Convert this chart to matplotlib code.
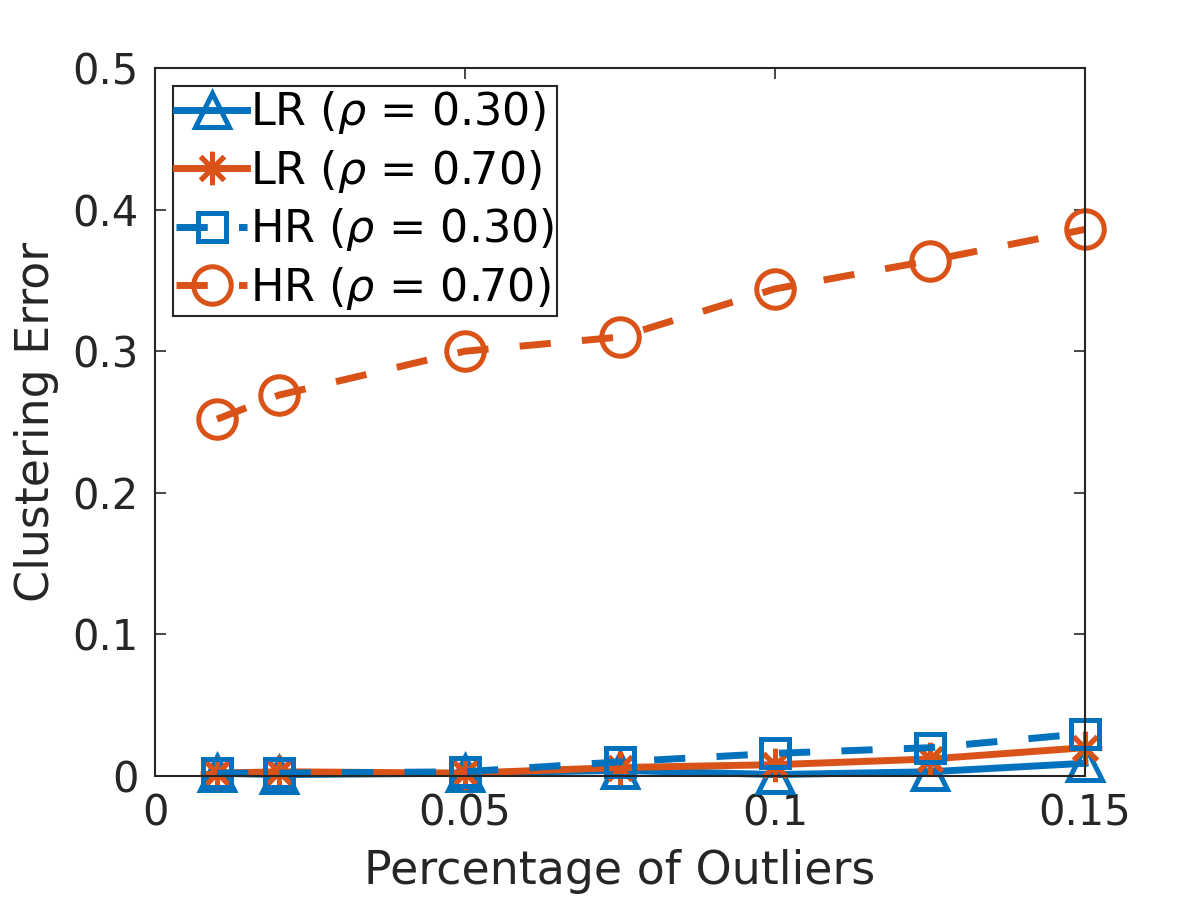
"""Clustering error vs percentage of outliers, MATLAB-style line chart."""

import matplotlib

matplotlib.use("Agg")
import matplotlib.pyplot as plt

# Data
OUTLIER_PCT = [0.01, 0.02, 0.05, 0.075, 0.1, 0.125, 0.15]
LR_030 = [0.002, 0.001, 0.002, 0.004, 0.001, 0.003, 0.009]
LR_070 = [0.002, 0.003, 0.002, 0.006, 0.008, 0.012, 0.020]
HR_030 = [0.002, 0.002, 0.003, 0.010, 0.016, 0.020, 0.030]
HR_070 = [0.252, 0.269, 0.300, 0.310, 0.344, 0.364, 0.386]

X_TICKS = [0, 0.05, 0.1, 0.15]
X_TICKLABELS = ["0", "0.05", "0.1", "0.15"]
Y_TICKS = [0, 0.1, 0.2, 0.3, 0.4, 0.5]
Y_TICKLABELS = ["0", "0.1", "0.2", "0.3", "0.4", "0.5"]

BLUE = "#0072BD"
ORANGE = "#D95319"
AXCOL = "#262626"

plt.rcParams["mathtext.fontset"] = "dejavusans"

fig = plt.figure(figsize=(12, 9), dpi=100)
ax = fig.add_axes((155 / 1200, 1 - 776 / 900, 930 / 1200, 708 / 900))

lw = 5
mew = 3.6
dash = (4.5, 4.5)
common = dict(lw=lw, mfc="none", mew=mew, clip_on=False)
ax.plot(OUTLIER_PCT, LR_030, "-", color=BLUE, marker="^", ms=25,
        label=r"LR ($\rho$ = 0.30)", **common)
ax.plot(OUTLIER_PCT, LR_070, "-", color=ORANGE, marker=(8, 2, 0), ms=24,
        label=r"LR ($\rho$ = 0.70)", **common)
ax.plot(OUTLIER_PCT, HR_030, "--", color=BLUE, marker="s", ms=20,
        dashes=dash, label=r"HR ($\rho$ = 0.30)", **common)
ax.plot(OUTLIER_PCT, HR_070, "--", color=ORANGE, marker="o", ms=27,
        dashes=dash, label=r"HR ($\rho$ = 0.70)", **common)

ax.set_xlim(0, 0.15)
ax.set_ylim(0, 0.5)
ax.set_xticks(X_TICKS)
ax.set_xticklabels(X_TICKLABELS)
ax.set_yticks(Y_TICKS)
ax.set_yticklabels(Y_TICKLABELS)
ax.tick_params(direction="in", top=True, right=True, length=8, width=1.2,
               labelsize=30, colors=AXCOL, pad=12)
for sp in ax.spines.values():
    sp.set_color(AXCOL)
    sp.set_linewidth(1.5)

ax.set_xlabel("Percentage of Outliers", fontsize=33, color=AXCOL, labelpad=10)
ax.set_ylabel("Clustering Error", fontsize=33, color=AXCOL, labelpad=9)

leg = ax.legend(loc="upper left", fontsize=32, handlelength=1.6,
                handletextpad=0.05, borderpad=0.08, labelspacing=0.26,
                borderaxespad=0.4, fancybox=False, framealpha=1,
                edgecolor=AXCOL)
leg.get_frame().set_linewidth(1.5)
for t in leg.get_texts():
    t.set_color("black")

fig.savefig("out.png", dpi=100)
